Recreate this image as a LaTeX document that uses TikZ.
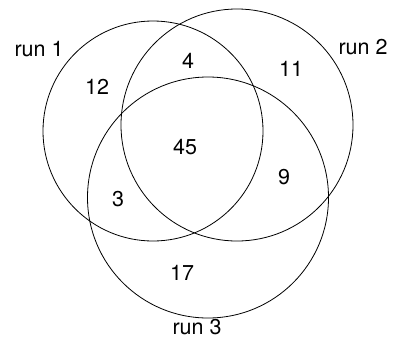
\documentclass[tikz,border=0pt]{standalone}
\usepackage{fontspec}
\setmainfont{TeX Gyre Heros}
\usepackage{tikz}

\begin{document}
\begin{tikzpicture}[x=1bp, y=-1bp, every node/.style={font=\fontsize{21.5bp}{24bp}\selectfont}]
    \useasboundingbox (0,0) rectangle (393,350);

    % Cercles
    \draw[line width=0.8bp] (153,131) circle[radius=110bp];
    \draw[line width=0.8bp] (237,125) circle[radius=116bp];
    \draw[line width=0.8bp] (208,197.5) circle[radius=120.5bp];

    % Noms
    \node (run1) at (39,49) {run 1};
    \node (run2) at (363,47) {run 2};
    \node (run3) at (197,327) {run 3};

    % Recomptes
    \node (n12) at (97,87) {12};
    \node (n4) at (188,61) {4};
    \node (n11) at (291,69) {11};
    \node (n45) at (185,147) {45};
    \node (n3) at (118,199) {3};
    \node (n9) at (284,177) {9};
    \node (n17) at (182,273) {17};
\end{tikzpicture}
\end{document}
